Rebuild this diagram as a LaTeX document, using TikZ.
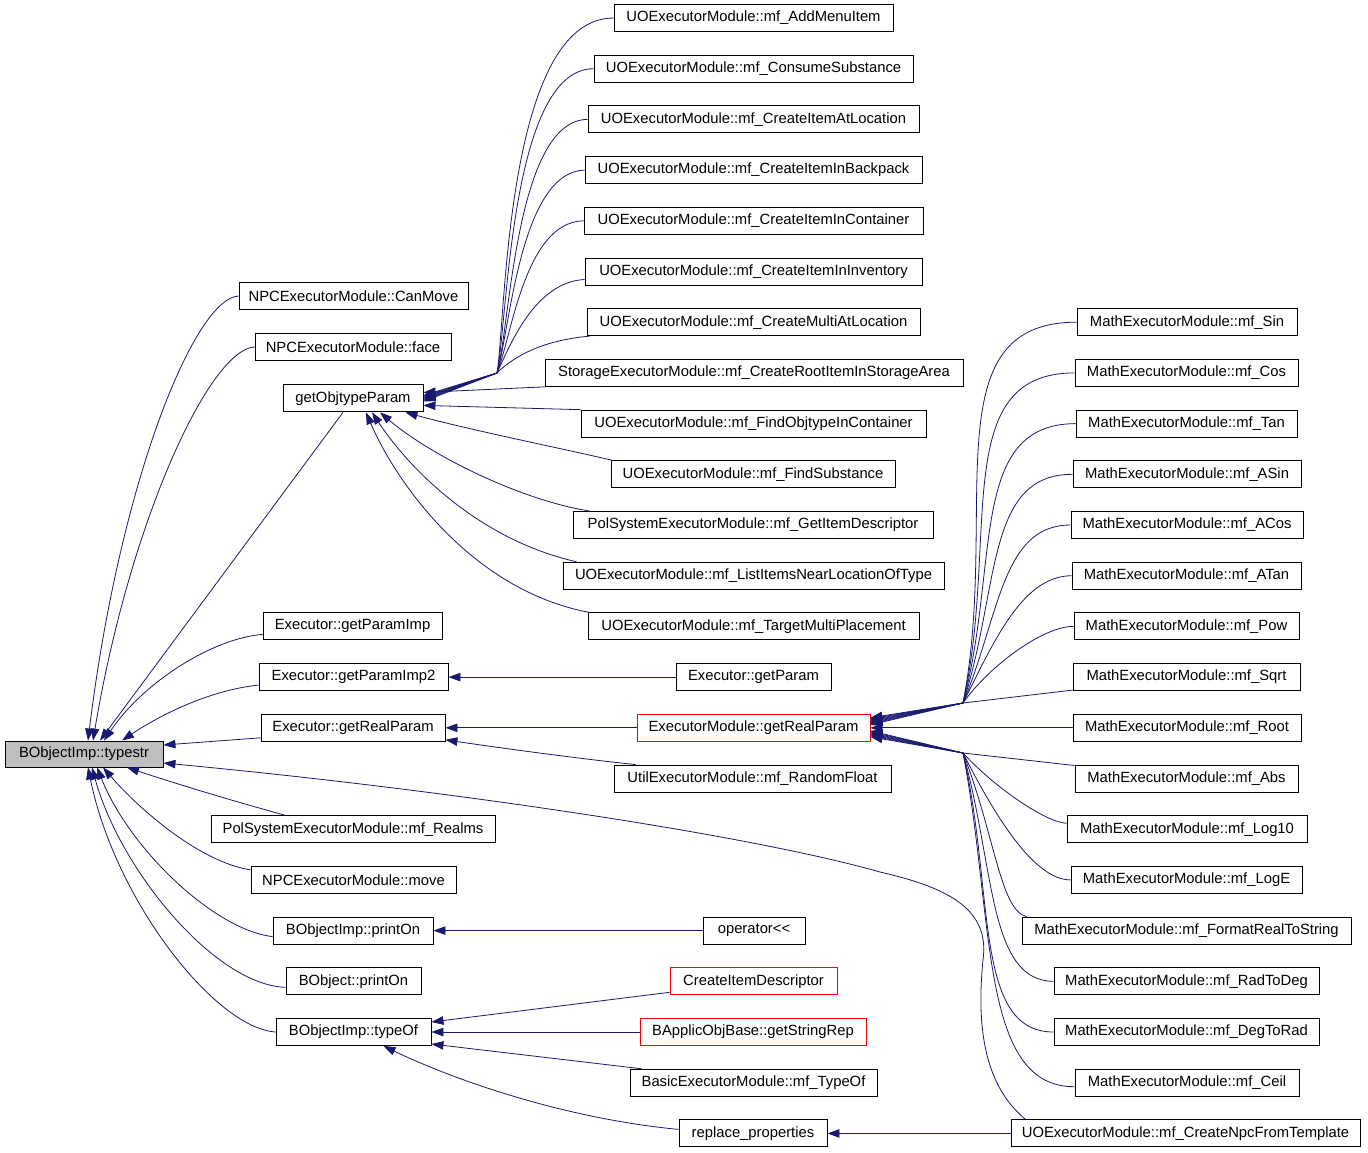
\documentclass[tikz,border=0pt]{standalone}
\usepackage{fontspec}
\setmainfont{Liberation Sans}
\usetikzlibrary{arrows.meta}
\definecolor{edgec}{HTML}{191970}
\definecolor{greyfill}{HTML}{BFBFBF}
\begin{document}
\begin{tikzpicture}[x=1pt,y=-1pt,
  box/.style={draw=black,line width=0.9pt,minimum height=27pt,inner sep=0pt,font=\fontsize{14.8}{17}\selectfont},
  redbox/.style={box,draw=red},
  edge/.style={draw=edgec,line width=0.8pt,-{Triangle[length=12pt,width=8.5pt]}}]
\useasboundingbox (0,0) rectangle (1368,1152);
\fill[white] (0,0) rectangle (1368,1152);
% left column
\node[box,fill=greyfill,minimum width=158pt,minimum height=26pt] (typestr) at (84,754) {BObjectImp::typestr};
\node[box,minimum width=229pt] (canmove) at (353.5,296) {NPCExecutorModule::CanMove};
\node[box,minimum width=196pt] (face) at (353,347) {NPCExecutorModule::face};
\node[box,minimum width=140pt] (gop) at (353,398.4) {getObjtypeParam};
\node[box,minimum width=179pt] (gpi) at (352.5,626.4) {Executor::getParamImp};
\node[box,minimum width=189pt] (gpi2) at (353.5,677.1) {Executor::getParamImp2};
\node[box,minimum width=184pt] (egrp) at (353,727.8) {Executor::getRealParam};
\node[box,minimum width=284pt] (realms) at (353,829.2) {PolSystemExecutorModule::mf\_Realms};
\node[box,minimum width=205pt] (move) at (353.5,879.9) {NPCExecutorModule::move};
\node[box,minimum width=160pt] (bip) at (353,930.6) {BObjectImp::printOn};
\node[box,minimum width=135pt] (bp) at (353.5,981.3) {BObject::printOn};
\node[box,minimum width=155pt] (typeof) at (353.5,1032) {BObjectImp::typeOf};
% middle column
\node[box,minimum width=279pt] (m0) at (753.5,18) {UOExecutorModule::mf\_AddMenuItem};
\node[box,minimum width=319pt] (m1) at (753.5,68.7) {UOExecutorModule::mf\_ConsumeSubstance};
\node[box,minimum width=331pt] (m2) at (753.5,119.4) {UOExecutorModule::mf\_CreateItemAtLocation};
\node[box,minimum width=337pt] (m3) at (753.5,170.1) {UOExecutorModule::mf\_CreateItemInBackpack};
\node[box,minimum width=339pt] (m4) at (753.5,220.8) {UOExecutorModule::mf\_CreateItemInContainer};
\node[box,minimum width=337pt] (m5) at (753.5,271.5) {UOExecutorModule::mf\_CreateItemInInventory};
\node[box,minimum width=333pt] (m6) at (753.5,322.2) {UOExecutorModule::mf\_CreateMultiAtLocation};
\node[box,minimum width=418pt] (m7) at (754,372.9) {StorageExecutorModule::mf\_CreateRootItemInStorageArea};
\node[box,minimum width=345pt] (m8) at (753.5,423.6) {UOExecutorModule::mf\_FindObjtypeInContainer};
\node[box,minimum width=284pt] (m9) at (753,474.3) {UOExecutorModule::mf\_FindSubstance};
\node[box,minimum width=360pt] (m10) at (753,525) {PolSystemExecutorModule::mf\_GetItemDescriptor};
\node[box,minimum width=381pt] (m11) at (753.5,575.7) {UOExecutorModule::mf\_ListItemsNearLocationOfType};
\node[box,minimum width=331pt] (m12) at (753.5,626.4) {UOExecutorModule::mf\_TargetMultiPlacement};
\node[box,minimum width=155pt] (m13) at (753.5,677.1) {Executor::getParam};
\node[redbox,minimum width=233pt] (m14) at (753.5,727.8) {ExecutorModule::getRealParam};
\node[box,minimum width=277pt] (m15) at (752.5,778.5) {UtilExecutorModule::mf\_RandomFloat};
\node[box,minimum width=102pt] (m18) at (754,930.6) {operator{<}{<}};
\node[redbox,minimum width=167pt] (m19) at (753.5,981.3) {CreateItemDescriptor};
\node[redbox,minimum width=226pt] (m20) at (753,1032) {BApplicObjBase::getStringRep};
\node[box,minimum width=247pt] (m21) at (753.5,1082.7) {BasicExecutorModule::mf\_TypeOf};
\node[box,minimum width=148pt] (m22) at (753,1133.4) {replace\_properties};
% right column
\node[box,minimum width=220pt] (r6) at (1187,322.2) {MathExecutorModule::mf\_Sin};
\node[box,minimum width=223pt] (r7) at (1186.5,372.9) {MathExecutorModule::mf\_Cos};
\node[box,minimum width=221pt] (r8) at (1186.5,423.6) {MathExecutorModule::mf\_Tan};
\node[box,minimum width=228pt] (r9) at (1187,474.3) {MathExecutorModule::mf\_ASin};
\node[box,minimum width=232pt] (r10) at (1187,525) {MathExecutorModule::mf\_ACos};
\node[box,minimum width=229pt] (r11) at (1186.5,575.7) {MathExecutorModule::mf\_ATan};
\node[box,minimum width=225pt] (r12) at (1186.5,626.4) {MathExecutorModule::mf\_Pow};
\node[box,minimum width=227pt] (r13) at (1186.5,677.1) {MathExecutorModule::mf\_Sqrt};
\node[box,minimum width=228pt] (r14) at (1187,727.8) {MathExecutorModule::mf\_Root};
\node[box,minimum width=223pt] (r15) at (1186.5,778.5) {MathExecutorModule::mf\_Abs};
\node[box,minimum width=240pt] (r16) at (1187,829.2) {MathExecutorModule::mf\_Log10};
\node[box,minimum width=231pt] (r17) at (1186.5,879.9) {MathExecutorModule::mf\_LogE};
\node[box,minimum width=329pt] (r18) at (1186.5,930.6) {MathExecutorModule::mf\_FormatRealToString};
\node[box,minimum width=265pt] (r19) at (1186.5,981.3) {MathExecutorModule::mf\_RadToDeg};
\node[box,minimum width=265pt] (r20) at (1186.5,1032) {MathExecutorModule::mf\_DegToRad};
\node[box,minimum width=224pt] (r21) at (1187,1082.7) {MathExecutorModule::mf\_Ceil};
\node[box,minimum width=349pt] (r22) at (1185.5,1133.4) {UOExecutorModule::mf\_CreateNpcFromTemplate};
% junction points
\coordinate (gj) at (497,373);
\coordinate (uj) at (963,703);
\coordinate (lj) at (963,753);
% edges to typestr
\draw[edge] (canmove.west) .. controls (195,298) and (120,480) .. ([xshift=4pt]typestr.north);
\draw[edge] (face.west) .. controls (210,349) and (130,520) .. ([xshift=9pt]typestr.north);
\draw[edge] ([xshift=-10pt]gop.south) -- ([xshift=16pt]typestr.north);
\draw[edge] ([yshift=-8pt]gpi.west) .. controls (215,638) and (145,680) .. ([xshift=20pt]typestr.north);
\draw[edge] ([yshift=-8pt]gpi2.west) .. controls (210,690) and (160,715) .. ([xshift=38pt]typestr.north);
\draw[edge] ([yshift=-10pt]egrp.west) -- ([yshift=9pt]typestr.east);
\draw[edge] ([xshift=-68pt]realms.north) .. controls (230,800) and (180,785) .. ([xshift=43pt]typestr.south);
\draw[edge] ([yshift=10pt]move.west) .. controls (200,862) and (140,810) .. ([xshift=19pt]typestr.south);
\draw[edge] ([yshift=-6pt]bip.west) .. controls (215,930) and (130,850) .. ([xshift=13pt]typestr.south);
\draw[edge] ([yshift=-6pt]bp.west) .. controls (215,985) and (120,870) .. ([xshift=8pt]typestr.south);
\draw[edge] (typeof.west) .. controls (215,1028) and (115,900) .. ([xshift=4pt]typestr.south);
\draw[edge] ([xshift=15pt]r22.north west) .. controls (990,1090) and (975,1040) .. (983,960) .. controls (990,910) and (950,888) .. (880,872) .. controls (750,835) and (450,790) .. ([yshift=-9pt]typestr.east);
% edges to getObjtypeParam
\draw[edge] (m0.west) .. controls (505,18) and (506,320) .. (gj) -- ([yshift=3pt]gop.east);
\draw[edge] (m1.west) .. controls (510,69) and (508,320) .. (gj) -- ([yshift=2pt]gop.east);
\draw[edge] (m2.west) .. controls (515,120) and (510,330) .. (gj) -- ([yshift=1pt]gop.east);
\draw[edge] (m3.west) .. controls (520,172) and (510,330) .. (gj) -- (gop.east);
\draw[edge] (m4.west) .. controls (525,222) and (512,335) .. (gj) -- ([yshift=-1pt]gop.east);
\draw[edge] ([yshift=-8pt]m5.west) .. controls (535,282) and (510,345) .. (gj) -- ([yshift=-2pt]gop.east);
\draw[edge] ([xshift=3pt]m6.south west) .. controls (545,340) and (515,355) .. (gj) -- ([yshift=-3pt]gop.east);
\draw[edge] (m7.south west) -- ([yshift=6pt]gop.east);
\draw[edge] (m8.north west) -- ([yshift=-7pt]gop.east);
\draw[edge] ([xshift=2pt]m9.north west) .. controls (560,448) and (470,430) .. ([xshift=-18pt]gop.south east);
\draw[edge] ([xshift=17pt]m10.north west) .. controls (520,500) and (430,455) .. ([xshift=27pt]gop.south);
\draw[edge] ([xshift=14pt]m11.north west) .. controls (480,540) and (410,470) .. ([xshift=19pt]gop.south);
\draw[edge] ([xshift=2pt]m12.north west) .. controls (470,590) and (395,480) .. ([xshift=13pt]gop.south);
% other middle edges
\draw[edge] (m13.west) -- (gpi2.east);
\draw[edge] (m14.west) -- (egrp.east);
\draw[edge] ([xshift=22pt]m15.north west) .. controls (590,760) and (500,748) .. ([yshift=-12pt]egrp.east);
\draw[edge] (m18.west) -- (bip.east);
\draw[edge] ([yshift=-11pt]m19.west) -- ([yshift=10pt]typeof.east);
\draw[edge] (m20.west) -- (typeof.east);
\draw[edge] ([xshift=12pt]m21.north west) -- ([yshift=-12pt]typeof.east);
\draw[edge] ([yshift=4pt]m22.west) .. controls (560,1118) and (450,1078) .. ([xshift=30pt]typeof.south);
\draw[edge] (r22.west) -- (m22.east);
% math edges
\draw[edge] (r6.west) .. controls (930,322) and (1000,512) .. (uj) -- ([yshift=10pt]m14.east);
\draw[edge] (r7.west) .. controls (948,373) and (1000,538) .. (uj) -- ([yshift=9pt]m14.east);
\draw[edge] (r8.west) .. controls (968,424) and (1000,563) .. (uj) -- ([yshift=8pt]m14.east);
\draw[edge] (r9.west) .. controls (985,474) and (1000,589) .. (uj) -- ([yshift=7pt]m14.east);
\draw[edge] (r10.west) .. controls (1002,525) and (1000,614) .. (uj) -- ([yshift=6pt]m14.east);
\draw[edge] (r11.west) .. controls (1023,576) and (995,639) .. (uj) -- ([yshift=5pt]m14.east);
\draw[edge] (r12.west) .. controls (1044,626) and (990,665) .. (uj) -- ([yshift=4pt]m14.east);
\draw[edge] ([yshift=-13pt]r13.west) -- (uj) -- ([yshift=3pt]m14.east);
\draw[edge] (r14.west) -- (m14.east);
\draw[edge] ([yshift=13pt]r15.west) -- (lj) -- ([yshift=-3pt]m14.east);
\draw[edge] ([yshift=6pt]r16.west) .. controls (1047,823) and (995,788) .. (lj) -- ([yshift=-4pt]m14.east);
\draw[edge] (r17.west) .. controls (1034,880) and (995,816) .. (lj) -- ([yshift=-5pt]m14.east);
\draw[edge] ([xshift=5pt]r18.north west) .. controls (1000,910) and (995,835) .. (lj) -- ([yshift=-6pt]m14.east);
\draw[edge] (r19.west) .. controls (988,981) and (995,867) .. (lj) -- ([yshift=-7pt]m14.east);
\draw[edge] (r20.west) .. controls (973,1032) and (995,892) .. (lj) -- ([yshift=-8pt]m14.east);
\draw[edge] ([yshift=-4pt]r21.west) .. controls (979,1087) and (995,920) .. (lj) -- ([yshift=-9pt]m14.east);
\end{tikzpicture}
\end{document}
